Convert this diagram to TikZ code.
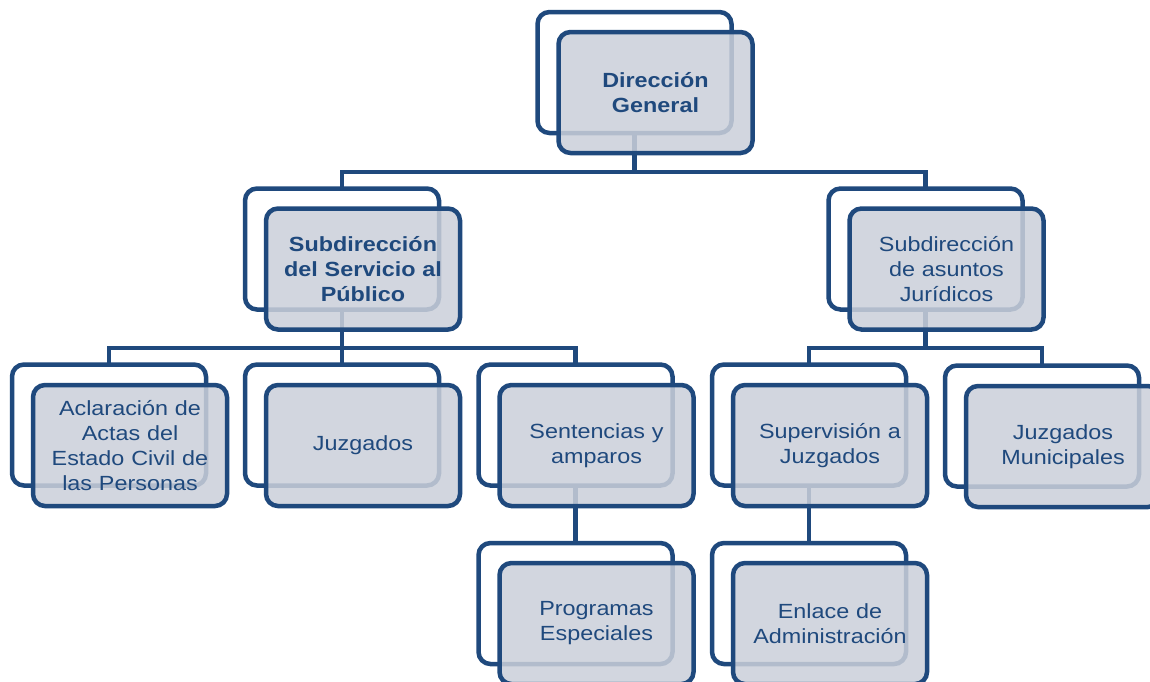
\documentclass[tikz,border=0pt]{standalone}
\usepackage{fontspec}
\setmainfont{Liberation Sans}[FakeStretch=1.14]
\definecolor{dblue}{RGB}{31,73,125}
\definecolor{boxfill}{RGB}{203,208,218}
\begin{document}
\begin{tikzpicture}[x=1pt,y=-1pt,
  boxbase/.style={draw=dblue, line width=4.5pt, rounded corners=12pt,
    minimum width=194pt, minimum height=121pt, outer sep=0pt, inner sep=0pt},
  backbox/.style={boxbase, fill=white},
  frontbox/.style={boxbase, fill=boxfill, fill opacity=0.86, text opacity=1,
    text=dblue, align=center, text width=186pt,
    font=\fontsize{20.5}{25}\selectfont},
  link/.style={draw=dblue, line width=4.5pt}]
\path[use as bounding box, clip] (0,0) rectangle (1150,681);
\fill[white] (0,0) rectangle (1150,681);
% back frames
\node[backbox] (dgB)  at (634.5,72.5) {};
\node[backbox] (sspB) at (342,249) {};
\node[backbox] (sajB) at (925.5,249) {};
\node[backbox] (aclB) at (109,425) {};
\node[backbox] (juzB) at (342,425) {};
\node[backbox] (senB) at (575.5,425) {};
\node[backbox] (supB) at (809,425) {};
\node[backbox] (jmB)  at (1042,426) {};
\node[backbox] (proB) at (575.5,603.5) {};
\node[backbox] (enlB) at (809,603.5) {};
% bar levels
\coordinate (bar1) at (0,172);
\coordinate (bar2) at (0,348);
% connectors
\draw[link] (dgB.south) -- (dgB.south |- bar1) -| (sspB.north);
\draw[link] (dgB.south |- bar1) -| (sajB.north);
\draw[link] (sspB.south) -- (sspB.south |- bar2) -| (aclB.north);
\draw[link] (sspB.south |- bar2) -| (senB.north);
\draw[link] (sspB.south) -- (juzB.north);
\draw[link] (sajB.south) -- (sajB.south |- bar2) -| (supB.north);
\draw[link] (sajB.south |- bar2) -| (jmB.north);
\draw[link] (senB.south) -- (proB.north);
\draw[link] (supB.south) -- (enlB.north);
% front boxes
\node[frontbox] (dg)  at (655.5,92.5) {\bfseries Dirección\\\bfseries General};
\node[frontbox] (ssp) at (363,269) {\bfseries Subdirección\\\bfseries del Servicio al\\\bfseries Público};
\node[frontbox] (saj) at (946.5,269) {Subdirección\\de asuntos\\Jurídicos};
\node[frontbox] (acl) at (130,445.5) {Aclaración de\\Actas del\\Estado Civil de\\las Personas};
\node[frontbox] (juz) at (363,445.5) {Juzgados};
\node[frontbox] (sen) at (596.5,445.5) {Sentencias y\\amparos};
\node[frontbox] (sup) at (830,445.5) {Supervisión a\\Juzgados};
\node[frontbox] (jm)  at (1063,446.5) {Juzgados\\Municipales};
\node[frontbox] (pro) at (596.5,623.5) {Programas\\Especiales};
\node[frontbox] (enl) at (830,623.5) {Enlace de\\Administración};
\end{tikzpicture}
\end{document}
